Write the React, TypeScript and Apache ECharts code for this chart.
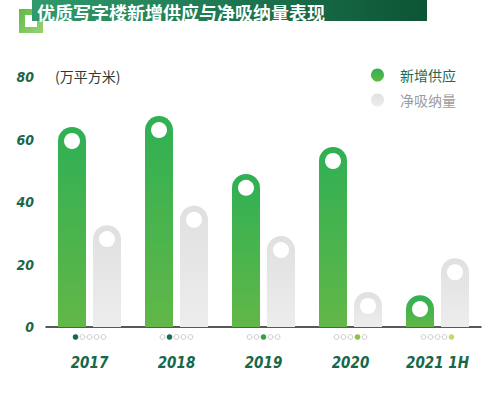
import React, { useEffect, useRef } from "react";
import * as echarts from "echarts";

const categories = ["2017", "2018", "2019", "2020", "2021 1H"];
const newSupply = [64, 67.5, 49, 57.6, 10.2];
const netAbsorption = [32.6, 38.8, 29.1, 11.2, 22];
const yTicks = [0, 20, 40, 60, 80];
const seriesNames = ["新增供应", "净吸纳量"];
const titleText = "优质写字楼新增供应与净吸纳量表现";
const unitText = "(万平方米)";
const dotColors = ["#17684a", "#17704a", "#3a9f46", "#8bc43f", "#c6d870"];

export default function App() {
  const ref = useRef<HTMLDivElement>(null);
  useEffect(() => {
    if (!ref.current) return;
    const chart = echarts.init(ref.current, null, { renderer: "svg" });
    const green = new echarts.graphic.LinearGradient(0, 0, 0, 1, [
      { offset: 0, color: "#2fb054" },
      { offset: 1, color: "#62b747" },
    ]);
    const gray = new echarts.graphic.LinearGradient(0, 0, 0, 1, [
      { offset: 0, color: "#e0e0e0" },
      { offset: 1, color: "#ededed" },
    ]);
    const labelFont = {
      fontFamily: "'DejaVu Sans Condensed', sans-serif",
      fontStyle: "italic" as const,
      fontWeight: "bold" as const,
      color: "#17684a",
    };
    chart.setOption({
      animation: false,
      grid: { left: 46, right: 19, top: 77, bottom: 68 },
      legend: {
        orient: "vertical",
        left: 371,
        top: 68,
        padding: 0,
        itemGap: 11,
        itemWidth: 13,
        itemHeight: 13,
        icon: "circle",
        data: [
          { name: seriesNames[0], textStyle: { color: "#1d6b4b" } },
          { name: seriesNames[1], textStyle: { color: "#9c9c9c" } },
        ],
        textStyle: {
          fontSize: 14,
          fontFamily: "Noto Sans CJK SC",
          padding: [0, 0, 0, 11],
        },
      },
      xAxis: {
        type: "category",
        data: categories,
        axisLine: { lineStyle: { color: "#222", width: 1.5 } },
        axisTick: { show: false },
        axisLabel: { ...labelFont, fontSize: 15, margin: 28, interval: 0 },
      },
      yAxis: {
        type: "value",
        min: 0,
        max: 80,
        interval: 20,
        splitLine: { show: false },
        axisLine: { show: false },
        axisTick: { show: false },
        axisLabel: {
          ...labelFont,
          fontSize: 14,
          margin: 12,
          formatter: (v: number) => (yTicks.includes(v) ? String(v) : ""),
        },
      },
      series: [
        {
          name: seriesNames[0],
          type: "bar",
          data: newSupply,
          barWidth: 28,
          barGap: "25%",
          itemStyle: { color: green, borderRadius: [14, 14, 0, 0] },
        },
        {
          name: seriesNames[1],
          type: "bar",
          data: netAbsorption,
          barWidth: 28,
          barGap: "25%",
          itemStyle: { color: gray, borderRadius: [14, 14, 0, 0] },
        },
        {
          name: "c1",
          type: "scatter",
          data: newSupply,
          symbol: "circle",
          symbolSize: 16,
          symbolOffset: [-17.5, 14],
          itemStyle: { color: "#ffffff", opacity: 1 },
          z: 5,
          silent: true,
        },
        {
          name: "c2",
          type: "scatter",
          data: netAbsorption,
          symbol: "circle",
          symbolSize: 16,
          symbolOffset: [17.5, 14],
          itemStyle: { color: "#ffffff", opacity: 1 },
          z: 5,
          silent: true,
        },
        {
          name: "dots",
          type: "custom",
          data: categories.map((c, i) => [i, 0]),
          renderItem: (params: any, api: any) => {
            const idx = api.value(0);
            const p = api.coord([idx, 0]);
            const children = [0, 1, 2, 3, 4].map((k) => ({
              type: "circle",
              shape: { cx: p[0] + (k - 2) * 7, cy: p[1] + 10, r: k === idx ? 2.8 : 2.4 },
              style:
                k === idx
                  ? { fill: dotColors[idx], stroke: null }
                  : { fill: "#fff", stroke: "#c9c9c9", lineWidth: 1 },
            }));
            return { type: "group", children };
          },
          silent: true,
        },
      ],
      graphic: [
        {
          type: "rect",
          shape: { x: 22, y: 12, width: 18, height: 18 },
          style: {
            fill: "none",
            stroke: new echarts.graphic.LinearGradient(0, 0, 1, 1, [
              { offset: 0, color: "#67bd4b" },
              { offset: 1, color: "#93cf6e" },
            ]),
            lineWidth: 6,
          },
          z: 1,
        },
        {
          type: "rect",
          shape: { x: 32, y: 0, width: 395, height: 21 },
          style: {
            fill: new echarts.graphic.LinearGradient(0, 0, 1, 0, [
              { offset: 0, color: "#2f9a6c" },
              { offset: 1, color: "#0c5435" },
            ]),
          },
          z: 2,
        },
        {
          type: "text",
          x: 37,
          y: 11.5,
          style: {
            text: titleText,
            fill: "#ffffff",
            fontSize: 18,
            fontWeight: "bold",
            fontFamily: "Noto Sans CJK SC",
            verticalAlign: "middle",
          },
          z: 3,
        },
        {
          type: "text",
          x: 55,
          y: 76,
          style: {
            text: unitText,
            fill: "#2e3b35",
            fontSize: 14,
            fontFamily: "Noto Sans CJK SC",
            verticalAlign: "middle",
          },
        },
      ],
    });
    return () => chart.dispose();
  }, []);
  return <div ref={ref} style={{ width: 500, height: 395, position: "absolute", left: 0, top: 0 }} />;
}
